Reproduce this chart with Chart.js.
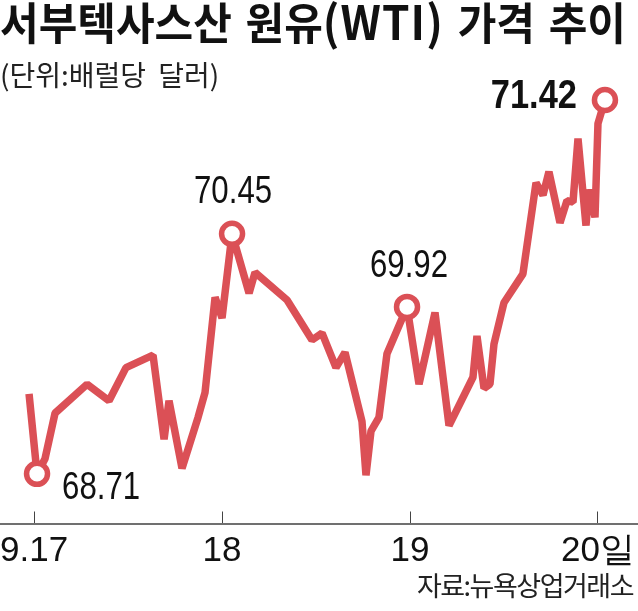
<!DOCTYPE html>
<html>
<head>
<meta charset="utf-8">
<script src="https://cdn.jsdelivr.net/npm/chart.js"></script>
<style>
html, body { margin: 0; padding: 0; background: #fff; }
#wrap { position: relative; width: 638px; height: 611px; overflow: hidden; }
#chart { position: absolute; left: 0; top: 0; }
.t { position: absolute; white-space: nowrap; font-family: 'Noto Sans CJK KR', sans-serif; color: #111; line-height: 1; }
#title { left: 0; top: -4px; font-size: 40px; font-weight: 700; word-spacing: 4px; transform: scale(1.05, 1.12); transform-origin: 0 0; }
#title span { font-size: 42px; letter-spacing: 1px; }
#sub { left: 0; top: 60px; font-size: 28px; letter-spacing: 0; word-spacing: 6px; color: #222; }
#src { right: 5px; top: 571px; font-size: 27px; letter-spacing: -1.5px; color: #222; }
</style>
</head>
<body>
<div id="wrap">
  <canvas id="chart" width="638" height="611"></canvas>
  <div class="t" id="title">서부텍사스산 원유<span>(WTI)</span> 가격 추이</div>
  <div class="t" id="sub">(단위:배럴당 달러)</div>
  <div class="t" id="src">자료:뉴욕상업거래소</div>
</div>
<script>
// hours counted from 9.17 00:00
var hours = [-0.64, 0.38, 1.40, 2.68, 6.77, 9.57, 11.74, 15.19, 16.60, 17.23,
  18.89, 20.94, 21.83, 23.11, 24.0, 25.28, 27.45, 28.21, 32.30, 35.49,
  36.77, 38.55, 39.70, 41.87, 42.38, 43.02, 44.04, 45.06, 47.62, 49.15,
  51.19, 52.98, 56.04, 56.55, 57.45, 58.21, 58.72, 59.99, 62.42, 64.09,
  64.98, 65.74, 67.15, 68.04, 68.81, 69.45, 70.47, 70.85, 71.62, 72.0, 72.89];
var prices = [69.29, 68.71, 68.82, 69.15, 69.36, 69.24, 69.48, 69.57, 68.96, 69.24,
  68.75, 69.12, 69.30, 69.99, 69.84, 70.45, 70.02, 70.17, 69.97, 69.68,
  69.73, 69.48, 69.59, 69.09, 68.70, 69.02, 69.12, 69.58, 69.92, 69.36,
  69.88, 69.06, 69.41, 69.71, 69.33, 69.36, 69.65, 69.95, 70.16, 70.82,
  70.73, 70.90, 70.53, 70.69, 70.68, 71.14, 70.51, 70.77, 70.57, 71.25, 71.42];
var tickHours = [0, 24, 48, 72];
var tickLabels = ['9.17', '18', '19', '20일'];
var markedIdx = [1, 15, 28, 50];

var red = '#db5056';
var numFont = "'Liberation Sans', Arial, sans-serif";
// label placement relative to the marked point (sx = horizontal squeeze)
var labelStyle = [
  { dx: 25, dy: 14, align: 'left', size: 39, bold: false, sx: 0.8 },
  { dx: 1, dy: -42, align: 'center', size: 39, bold: false, sx: 0.8 },
  { dx: 2, dy: -41, align: 'center', size: 39, bold: false, sx: 0.8 },
  { dx: -28, dy: -3, align: 'right', size: 41, bold: true, sx: 0.84 }
];

var pointLabels = {
  id: 'pointLabels',
  afterDatasetsDraw: function (chart) {
    var meta = chart.getDatasetMeta(0);
    var ctx = chart.ctx;
    markedIdx.forEach(function (idx, k) {
      var pt = meta.data[idx];
      var s = labelStyle[k];
      ctx.save();
      ctx.textBaseline = 'middle';
      ctx.fillStyle = '#111';
      ctx.font = (s.bold ? 'bold ' : '') + s.size + 'px ' + numFont;
      ctx.textAlign = s.align;
      ctx.translate(pt.x + s.dx, pt.y + s.dy);
      ctx.scale(s.sx, 1);
      ctx.fillText(prices[idx].toFixed(2), 0, 0);
      ctx.restore();
    });
  }
};

var ctx = document.getElementById('chart');
var myChart = new Chart(ctx, {
  type: 'line',
  data: {
    datasets: [
      {
        data: hours.map(function (h, i) { return { x: h, y: prices[i] }; }),
        borderColor: red,
        borderWidth: 7.5,
        borderJoinStyle: 'bevel',
        tension: 0,
        fill: false,
        clip: false,
        pointRadius: function (c) { return markedIdx.indexOf(c.dataIndex) >= 0 ? 10.5 : 0; },
        pointHoverRadius: 0,
        pointBackgroundColor: '#fff',
        pointBorderColor: red,
        pointBorderWidth: 5.5
      }
    ]
  },
  options: {
    responsive: false,
    animation: false,
    devicePixelRatio: 1,
    layout: { autoPadding: false, padding: { top: 60, left: 0, right: 0, bottom: 19 } },
    plugins: { legend: { display: false }, tooltip: { enabled: false } },
    scales: {
      x: {
        type: 'linear',
        min: -4.34,
        max: 77.11,
        afterBuildTicks: function (scale) {
          scale.ticks = tickHours.map(function (v) { return { value: v }; });
        },
        grid: { drawOnChartArea: false, drawTicks: true, tickLength: -12, color: '#444', lineWidth: 1 },
        border: { display: true, color: '#707070', width: 2 },
        ticks: {
          autoSkip: false,
          maxRotation: 0,
          padding: 0,
          color: '#111',
          font: { family: numFont, size: 35, lineHeight: 2.3 },
          callback: function (v, i) { return tickLabels[i]; }
        }
      },
      y: {
        display: false,
        min: 68.35,
        max: 71.71
      }
    }
  },
  plugins: [pointLabels]
});
</script>
</body>
</html>
